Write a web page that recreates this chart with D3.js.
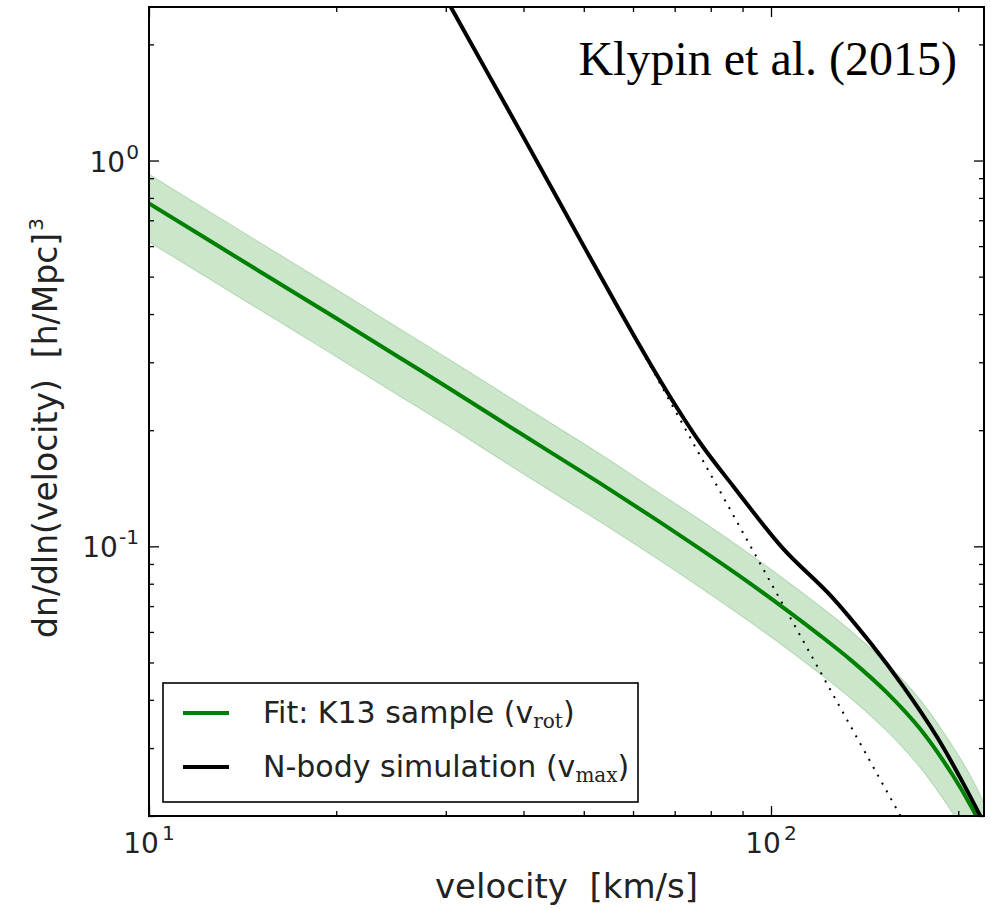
<!DOCTYPE html>
<html>
<head>
<meta charset="utf-8">
<script src="https://cdn.jsdelivr.net/npm/d3@7"></script>
<style>
  html, body { margin: 0; padding: 0; background: #fff; }
  svg { display: block; font-family: "DejaVu Sans", sans-serif; }
  text { white-space: pre; }
</style>
</head>
<body>
<svg id="chart" width="991" height="909"></svg>
<script>
// Velocity function: observed fit (K13 sample, v_rot) and N-body simulation (v_max)
const fitVelocity = [10, 15, 20, 25, 30, 40, 53, 65, 77, 90, 104, 120, 135, 153, 174, 196, 211, 222];
const fitValue    = [0.774, 0.518, 0.390, 0.312, 0.260, 0.194, 0.146, 0.118, 0.0983, 0.0827, 0.0699, 0.0587, 0.0504, 0.0420, 0.0335, 0.0255, 0.0208, 0.0176];
const fitHigh     = [0.921, 0.616, 0.464, 0.371, 0.309, 0.231, 0.174, 0.140, 0.117, 0.0984, 0.0832, 0.0699, 0.0600, 0.0500, 0.0399, 0.0303, 0.0248, 0.0209];
const fitLow      = [0.615, 0.412, 0.310, 0.248, 0.207, 0.154, 0.116, 0.0938, 0.0781, 0.0657, 0.0556, 0.0467, 0.0401, 0.0334, 0.0266, 0.0203, 0.0165, 0.0140];

const simVelocity = [28, 35, 40, 50, 60, 68, 77, 87, 104.5, 125, 145, 163, 185, 201, 217, 226];
const simValue    = [3.22, 1.69, 1.15, 0.600, 0.355, 0.252, 0.185, 0.143, 0.0988, 0.0742, 0.0558, 0.0434, 0.0320, 0.0253, 0.0200, 0.0175];

// Power-law extrapolation of the low-velocity simulation slope
const powerVelocity = [28, 165];
const powerValue    = [3.22, 0.0188];

const xMajorTicks = [10, 100];
const xMinorTicks = [20, 30, 40, 50, 60, 70, 80, 90, 200];
const yMajorTicks = [0.1, 1];
const yMinorTicks = [0.02, 0.03, 0.04, 0.05, 0.06, 0.07, 0.08, 0.09, 0.2, 0.3, 0.4, 0.5, 0.6, 0.7, 0.8, 0.9, 2];
const xTickLabels = [["10", "1"], ["10", "2"]];
const yTickLabels = [["10", "-1"], ["10", "0"]];

const legendItems = [
  { main: "Fit: K13 sample (v", sub: "rot", color: "#008000" },
  { main: "N-body simulation (v", sub: "max", color: "#000000" }
];

const svg = d3.select("#chart");
const plot = { left: 149, right: 984, top: 7, bottom: 816 };

const x = d3.scaleLog().domain([10, 220]).range([plot.left, plot.right]);
const y = d3.scaleLog().domain([0.02, 2.5]).range([plot.bottom, plot.top]);

svg.append("defs").append("clipPath").attr("id", "plotclip")
  .append("rect")
  .attr("x", plot.left).attr("y", plot.top)
  .attr("width", plot.right - plot.left).attr("height", plot.bottom - plot.top);

const g = svg.append("g").attr("clip-path", "url(#plotclip)");

// Uncertainty band of the fit
const band = fitVelocity.map((v, i) => ({ v, lo: fitLow[i], hi: fitHigh[i] }));
g.append("path")
  .datum(band)
  .attr("d", d3.area()
    .x(d => x(d.v))
    .y0(d => y(d.lo))
    .y1(d => y(d.hi))
    .curve(d3.curveCatmullRom))
  .attr("fill", "rgba(0,128,0,0.2)")
  .attr("stroke", "rgba(0,128,0,0.18)")
  .attr("stroke-width", 1.2);

const line = d3.line().x(d => x(d[0])).y(d => y(d[1])).curve(d3.curveCatmullRom);

// Dotted power law
g.append("path")
  .datum(powerVelocity.map((v, i) => [v, powerValue[i]]))
  .attr("d", d3.line().x(d => x(d[0])).y(d => y(d[1])))
  .attr("fill", "none")
  .attr("stroke", "#000")
  .attr("stroke-width", 2)
  .attr("stroke-dasharray", "2,7");

// Fit line
g.append("path")
  .datum(fitVelocity.map((v, i) => [v, fitValue[i]]))
  .attr("d", line)
  .attr("fill", "none")
  .attr("stroke", "#008000")
  .attr("stroke-width", 4);

// Simulation line
g.append("path")
  .datum(simVelocity.map((v, i) => [v, simValue[i]]))
  .attr("d", line)
  .attr("fill", "none")
  .attr("stroke", "#000")
  .attr("stroke-width", 4);

// Inward ticks on all four sides
function addTicks(axisFn, scale, values, size, transform) {
  const a = axisFn(scale).tickValues(values).tickSize(size).tickFormat(() => "");
  const sel = svg.append("g").attr("transform", transform).call(a);
  sel.select(".domain").remove();
  sel.selectAll(".tick line").attr("stroke", "#000").attr("stroke-width", 1.3);
  return sel;
}
addTicks(d3.axisBottom, x, xMajorTicks, -10, `translate(0,${plot.bottom})`);
addTicks(d3.axisBottom, x, xMinorTicks, -5, `translate(0,${plot.bottom})`);
addTicks(d3.axisTop, x, xMajorTicks, -10, `translate(0,${plot.top})`);
addTicks(d3.axisTop, x, xMinorTicks, -5, `translate(0,${plot.top})`);
addTicks(d3.axisLeft, y, yMajorTicks, -10, `translate(${plot.left},0)`);
addTicks(d3.axisLeft, y, yMinorTicks, -5, `translate(${plot.left},0)`);
addTicks(d3.axisRight, y, yMajorTicks, -10, `translate(${plot.right},0)`);
addTicks(d3.axisRight, y, yMinorTicks, -5, `translate(${plot.right},0)`);

// Frame
svg.append("rect")
  .attr("x", plot.left).attr("y", plot.top)
  .attr("width", plot.right - plot.left).attr("height", plot.bottom - plot.top)
  .attr("fill", "none").attr("stroke", "#000").attr("stroke-width", 2);

// Tick labels with superscript exponents
const tickFont = 28;
xMajorTicks.forEach((v, i) => {
  const t = svg.append("text")
    .attr("x", x(v)).attr("y", plot.bottom + 37)
    .attr("text-anchor", "middle")
    .attr("font-size", tickFont).attr("fill", "#222");
  t.append("tspan").text(xTickLabels[i][0]);
  t.append("tspan").attr("dx", 3).attr("dy", -13).attr("font-size", tickFont * 0.72).text(xTickLabels[i][1]);
});
yMajorTicks.forEach((v, i) => {
  const t = svg.append("text")
    .attr("x", plot.left - 10).attr("y", y(v) + 11)
    .attr("text-anchor", "end")
    .attr("font-size", tickFont).attr("fill", "#222");
  t.append("tspan").text(yTickLabels[i][0]);
  t.append("tspan").attr("dx", 1).attr("dy", -13).attr("font-size", tickFont * 0.72).text(yTickLabels[i][1]);
});

// Axis labels
svg.append("text")
  .attr("x", (plot.left + plot.right) / 2).attr("y", 898)
  .attr("text-anchor", "middle")
  .attr("font-size", 34).attr("fill", "#222")
  .text("velocity  [km/s]");

const yl = svg.append("text")
  .attr("transform", "translate(57,428) rotate(-90)")
  .attr("text-anchor", "middle")
  .attr("font-size", 33).attr("fill", "#222");
yl.append("tspan").text("dn/dln(velocity)  [h/Mpc]");
yl.append("tspan").attr("dx", 2).attr("dy", -14).attr("font-size", 20).text("3");

// Reference note
svg.append("text")
  .attr("x", 957).attr("y", 75)
  .attr("text-anchor", "end")
  .attr("font-family", "'Liberation Serif', 'Times New Roman', serif")
  .attr("font-size", 48).attr("fill", "#000")
  .text("Klypin et al. (2015)");

// Legend
const lg = svg.append("g");
lg.append("rect")
  .attr("x", 163).attr("y", 683).attr("width", 475).attr("height", 119)
  .attr("fill", "#fff").attr("stroke", "#000").attr("stroke-width", 1.6);
legendItems.forEach((d, i) => {
  const cy = 713 + i * 54;
  lg.append("line")
    .attr("x1", 183).attr("x2", 229).attr("y1", cy).attr("y2", cy)
    .attr("stroke", d.color).attr("stroke-width", 4);
  const t = lg.append("text")
    .attr("x", 263).attr("y", cy + 10)
    .attr("font-size", 30).attr("fill", "#222");
  t.append("tspan").text(d.main);
  t.append("tspan").attr("dy", 5)
    .attr("font-family", "'DejaVu Serif', serif")
    .attr("font-size", 20).text(d.sub);
  t.append("tspan").attr("dy", -5).text(")");
});
</script>
</body>
</html>
